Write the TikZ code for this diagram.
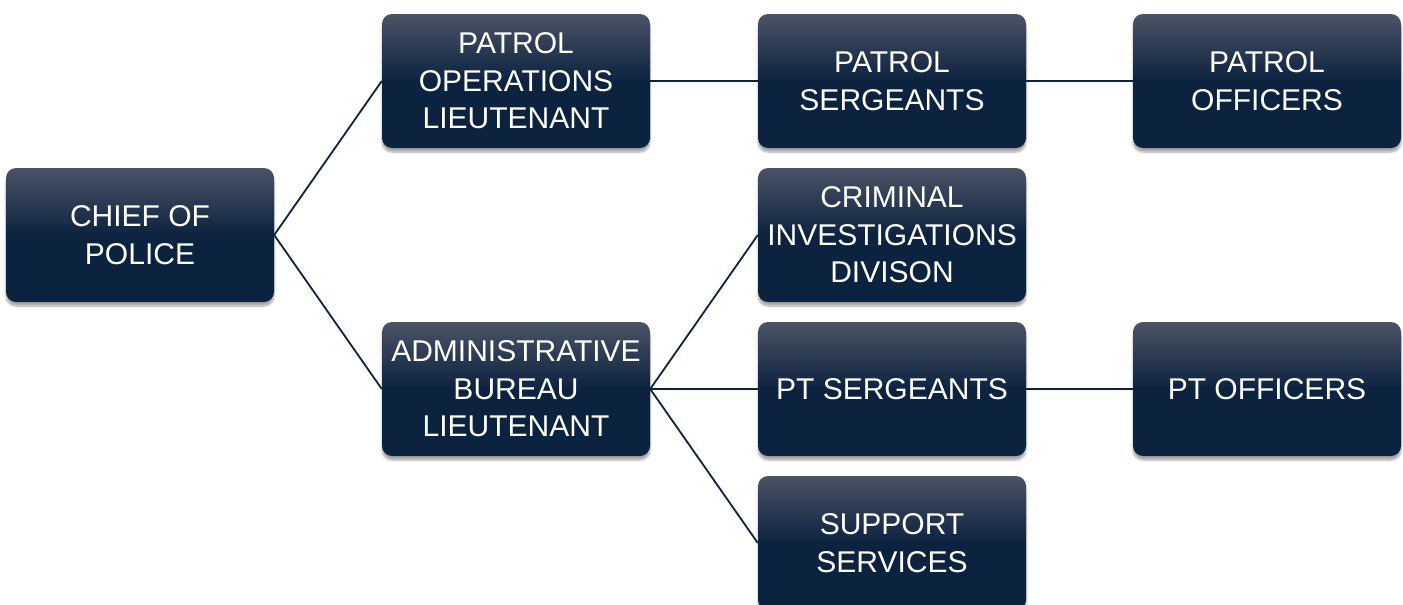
\documentclass[tikz,border=0pt]{standalone}
\usepackage{fontspec}
\setmainfont{Liberation Sans}
\usetikzlibrary{shadows.blur}
\definecolor{navy}{HTML}{0C2340}
\definecolor{navytop}{HTML}{4B5366}
\tikzset{
  orgbox/.style={rectangle, rounded corners=10pt, minimum width=268pt, minimum height=134pt,
    inner sep=0pt, align=center, text=white,
    top color=navytop, bottom color=navy, middle color=navy,
    font=\fontsize{30}{37.5}\selectfont,
    blur shadow={shadow xshift=0pt, shadow yshift=-4pt, shadow blur steps=6, shadow opacity=35}},
  link/.style={draw=navy, line width=1.8pt}
}
\begin{document}
\begin{tikzpicture}[x=1pt, y=-1pt]
\useasboundingbox (0,0) rectangle (1403,605);
\node[orgbox] (chief) at (140,235) {CHIEF OF\\POLICE};
\node[orgbox] (pol) at (516,81) {PATROL\\OPERATIONS\\LIEUTENANT};
\node[orgbox] (abl) at (516,389) {ADMINISTRATIVE\\BUREAU\\LIEUTENANT};
\node[orgbox] (ps) at (892,81) {PATROL\\SERGEANTS};
\node[orgbox] (cid) at (892,235) {CRIMINAL\\INVESTIGATIONS\\DIVISON};
\node[orgbox] (pts) at (892,389) {PT SERGEANTS};
\node[orgbox] (ss) at (892,543) {SUPPORT\\SERVICES};
\node[orgbox] (po) at (1267,81) {PATROL\\OFFICERS};
\node[orgbox] (pto) at (1267,389) {PT OFFICERS};
\draw[link] (chief.east) -- (pol.west);
\draw[link] (chief.east) -- (abl.west);
\draw[link] (pol.east) -- (ps.west);
\draw[link] (abl.east) -- (cid.west);
\draw[link] (abl.east) -- (pts.west);
\draw[link] (abl.east) -- (ss.west);
\draw[link] (ps.east) -- (po.west);
\draw[link] (pts.east) -- (pto.west);
\end{tikzpicture}
\end{document}
